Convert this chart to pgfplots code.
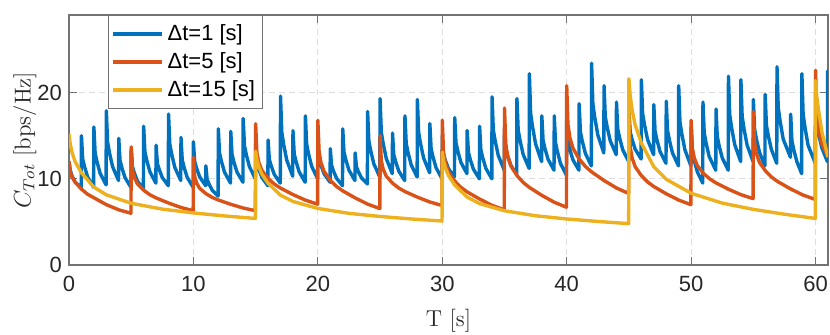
\documentclass[border=0pt]{standalone}
\usepackage{fontspec}
\usepackage{pgfplots}
\pgfplotsset{compat=1.18}
\newfontfamily\hv{Liberation Sans}
\definecolor{mBlue}{RGB}{0,114,189}
\definecolor{mOrange}{RGB}{217,83,25}
\definecolor{mYellow}{RGB}{237,177,32}
\definecolor{mAxis}{RGB}{38,38,38}
\definecolor{mGrid}{RGB}{222,222,222}

\begin{document}
\begin{tikzpicture}
\begin{axis}[
  name=ax,
  width=379.5pt, height=125pt, scale only axis,
  xmin=0, xmax=61, ymin=0, ymax=29,
  xtick={0,10,...,60}, ytick={0,10,20},
  tick align=inside, major tick length=4pt,
  axis line style={black!55, line width=0.6pt},
  tick style={black!55, line width=0.6pt},
  grid=major,
  grid style={mGrid, dash pattern=on 3pt off 2pt, line width=0.5pt},
  ticklabel style={font=\hv\fontsize{11}{13}\selectfont, text=mAxis},
  /pgf/number format/assume math mode=true,
  xticklabel style={yshift=-2pt},
  xlabel={T [s]},
  ylabel={$C_{Tot}$ [bps/Hz]},
  label style={font=\fontsize{11.5}{13}\selectfont, text=mAxis},
  xlabel style={at={(rel axis cs:0.5,-0.224)}, anchor=center},
  ylabel style={at={(rel axis cs:-0.058,0.5)}, anchor=center},
  legend style={at={(0.051,1)}, anchor=north west,
    font=\hv\fontsize{11}{13}\selectfont, text=black,
    draw=black!55, fill=white, line width=0.6pt,
    inner xsep=1.5pt, inner ysep=2.5pt, row sep=0.5pt},
  legend cell align=left,
  legend image code/.code={\draw[#1] (0cm,0cm) -- (0.86cm,0cm);},
  every axis plot/.append style={line width=1.7pt, line join=round},
]
% dt = 1 s
\addplot[mBlue] coordinates {
(0,12.0)(0.1,11.0)(0.25,10.3)(0.5,9.6)(0.98,9.0)
(1,15.0)(1.1,12.3)(1.25,11.4)(1.5,10.2)(1.98,9.0)
(2,16.0)(2.1,12.99)(2.25,11.98)(2.5,10.64)(2.98,9.3)
(3,17.9)(3.1,14.26)(3.25,13.04)(3.5,11.42)(3.98,9.8)
(4,14.7)(4.1,12.14)(4.25,11.28)(4.5,10.14)(4.98,9.0)
(5,13.5)(5.1,11.39)(5.25,10.68)(5.5,9.74)(5.98,8.8)
(6,16.1)(6.1,13.13)(6.25,12.14)(6.5,10.82)(6.98,9.5)
(7,13.9)(7.1,11.79)(7.25,11.08)(7.5,10.14)(7.98,9.2)
(8,17.5)(8.1,14.04)(8.25,12.88)(8.5,11.34)(8.98,9.8)
(9,14.8)(9.1,12.19)(9.25,11.32)(9.5,10.16)(9.98,9.0)
(10,14.3)(10.1,12.01)(10.25,11.24)(10.5,10.22)(10.98,9.2)
(11,11.5)(11.1,9.93)(11.25,9.4)(11.5,8.7)(11.98,8.0)
(12,15.8)(12.1,12.97)(12.25,12.02)(12.5,10.76)(12.98,9.5)
(13,15.5)(13.1,12.85)(13.25,11.96)(13.5,10.78)(13.98,9.6)
(14,17.0)(14.1,13.85)(14.25,12.8)(14.5,11.4)(14.98,10.0)
(15,14.0)(15.1,11.84)(15.25,11.12)(15.5,10.16)(15.98,9.2)
(16,14.5)(16.1,12.25)(16.25,11.5)(16.5,10.5)(16.98,9.5)
(17,19.6)(17.1,15.42)(17.25,14.02)(17.5,12.16)(17.98,10.3)
(18,15.6)(18.1,12.9)(18.25,12.0)(18.5,10.8)(18.98,9.6)
(19,17.3)(19.1,14.02)(19.25,12.92)(19.5,11.46)(19.98,10.0)
(20,14.5)(20.1,12.3)(20.25,11.56)(20.5,10.58)(20.98,9.6)
(21,13.5)(21.1,11.57)(21.25,10.92)(21.5,10.06)(21.98,9.2)
(22,15.8)(22.1,13.1)(22.25,12.2)(22.5,11.0)(22.98,9.8)
(23,13.0)(23.1,11.38)(23.25,10.84)(23.5,10.12)(23.98,9.4)
(24,17.8)(24.1,14.38)(24.25,13.24)(24.5,11.72)(24.98,10.2)
(25,19.3)(25.1,15.39)(25.25,14.08)(25.5,12.34)(25.98,10.6)
(26,15.3)(26.1,12.83)(26.25,12.0)(26.5,10.9)(26.98,9.8)
(27,17.3)(27.1,14.11)(27.25,13.04)(27.5,11.62)(27.98,10.2)
(28,19.2)(28.1,15.38)(28.25,14.1)(28.5,12.4)(28.98,10.7)
(29,16.4)(29.1,13.52)(29.25,12.56)(29.5,11.28)(29.98,10.0)
(30,15.0)(30.1,12.84)(30.25,12.12)(30.5,11.16)(30.98,10.2)
(31,17.1)(31.1,14.18)(31.25,13.2)(31.5,11.9)(31.98,10.6)
(32,15.6)(32.1,13.08)(32.25,12.24)(32.5,11.12)(32.98,10.0)
(33,16.1)(33.1,13.36)(33.25,12.44)(33.5,11.22)(33.98,10.0)
(34,19.5)(34.1,15.68)(34.25,14.4)(34.5,12.7)(34.98,11.0)
(35,16.0)(35.1,13.53)(35.25,12.7)(35.5,11.6)(35.98,10.5)
(36,19.3)(36.1,15.66)(36.25,14.44)(36.5,12.82)(36.98,11.2)
(37,22.2)(37.1,17.61)(37.25,16.08)(37.5,14.04)(37.98,12.0)
(38,17.3)(38.1,14.47)(38.25,13.52)(38.5,12.26)(38.98,11.0)
(39,17.3)(39.1,14.2)(39.25,13.16)(39.5,11.78)(39.98,10.4)
(40,17.0)(40.1,14.3)(40.25,13.4)(40.5,12.2)(40.98,11.0)
(41,18.7)(41.1,15.46)(41.25,14.38)(41.5,12.94)(41.98,11.5)
(42,23.4)(42.1,18.72)(42.25,17.16)(42.5,15.08)(42.98,13.0)
(43,20.8)(43.1,17.2)(43.25,16.0)(43.5,14.4)(43.98,12.8)
(44,18.9)(44.1,15.8)(44.25,14.76)(44.5,13.38)(44.98,12.0)
(45,18.0)(45.1,15.44)(45.25,14.58)(45.5,13.44)(45.98,12.3)
(46,21.5)(46.1,17.59)(46.25,16.28)(46.5,14.54)(46.98,12.8)
(47,18.6)(47.1,15.54)(47.25,14.52)(47.5,13.16)(47.98,11.8)
(48,19.0)(48.1,15.63)(48.25,14.5)(48.5,13.0)(48.98,11.5)
(49,20.8)(49.1,16.62)(49.25,15.22)(49.5,13.36)(49.98,11.5)
(50,16.0)(50.1,13.08)(50.25,12.1)(50.5,10.8)(50.93,9.5)
(50.95,18.9)(51.05,15.35)(51.2,14.16)(51.45,12.58)(51.98,11.0)
(52,18.1)(52.1,14.91)(52.25,13.84)(52.5,12.42)(52.98,11.0)
(53,21.9)(53.1,17.45)(53.25,15.96)(53.5,13.98)(53.98,12.0)
(54,21.5)(54.1,17.23)(54.25,15.8)(54.5,13.9)(54.98,12.0)
(55,19.2)(55.1,15.74)(55.25,14.58)(55.5,13.04)(55.93,11.5)
(55.95,19.8)(56.05,16.2)(56.2,15.0)(56.45,13.4)(56.88,11.8)
(56.9,23.0)(57.0,18.28)(57.15,16.7)(57.4,14.6)(57.98,12.5)
(58,17.5)(58.1,14.4)(58.25,13.36)(58.5,11.98)(58.88,10.6)
(58.9,22.2)(59.0,17.52)(59.15,15.96)(59.4,13.88)(59.98,11.8)
(60,20.0)(60.1,16.4)(60.25,15.2)(60.5,13.6)(60.95,12.0)
(60.97,22.5)(61.1,18.0)
};
\addlegendentry{Δt=1 [s]}
% dt = 5 s
\addplot[mOrange] coordinates {
(0,12.0)(0.1,10.8)(0.25,10.2)(0.5,9.6)(1,8.8)(1.5,8.2)(2,7.8)(3,7.0)(4,6.4)(4.98,6.0)
(5,13.7)(5.1,11.04)(5.25,10.15)(5.5,9.41)(6,8.67)(6.5,8.15)(7,7.78)(8,7.19)(9,6.67)(9.98,6.3)
(10,12.5)(10.1,10.27)(10.25,9.52)(10.5,8.9)(11,8.28)(11.5,7.85)(12,7.54)(13,7.04)(14,6.61)(14.98,6.3)
(15,16.4)(15.1,13.03)(15.25,11.91)(15.5,10.98)(16,10.04)(16.5,9.39)(17,8.92)(18,8.17)(19,7.52)(19.98,7.05)
(20,16.8)(20.1,13.11)(20.25,11.88)(20.5,10.86)(21,9.83)(21.5,9.11)(22,8.6)(23,7.78)(24,7.06)(24.98,6.55)
(25,15.0)(25.1,12.08)(25.25,11.11)(25.5,10.3)(26,9.49)(26.5,8.93)(27,8.52)(28,7.87)(29,7.31)(29.98,6.9)
(30,16.8)(30.1,13.06)(30.25,11.81)(30.5,10.77)(31,9.73)(31.5,9.0)(32,8.48)(33,7.65)(34,6.92)(34.98,6.4)
(35,18.2)(35.1,14.06)(35.25,12.68)(35.5,11.53)(36,10.38)(36.5,9.58)(37,9.0)(38,8.08)(39,7.28)(39.98,6.7)
(40,20.8)(40.1,16.3)(40.25,14.8)(40.5,13.55)(41,12.3)(41.5,11.43)(42,10.8)(43,9.8)(44,8.93)(44.98,8.3)
(45,17.5)(45.1,13.72)(45.25,12.46)(45.5,11.41)(46,10.36)(46.5,9.63)(47,9.1)(48,8.26)(49,7.53)(49.98,7.0)
(50,16.8)(50.1,13.52)(50.25,12.43)(50.5,11.52)(51,10.61)(51.5,9.98)(52,9.52)(53,8.79)(54,8.16)(54.98,7.7)
(55,17.8)(55.1,14.13)(55.25,12.9)(55.5,11.88)(56,10.86)(56.5,10.15)(57,9.64)(58,8.82)(59,8.11)(59.98,7.6)
(60,22.6)(60.1,17.31)(60.25,15.54)(60.5,14.07)(61,12.6)
};
\addlegendentry{Δt=5 [s]}
% dt = 15 s
\addplot[mYellow] coordinates {
(0,15.2)(0.1,14.02)(0.25,13.04)(0.5,11.97)(1,10.69)(2,9.03)(3,8.14)(5,7.16)(7.5,6.48)(10,6.04)(12.5,5.69)(14.98,5.4)
(15,13.2)(15.1,12.23)(15.25,11.42)(15.5,10.53)(16,9.47)(17,8.1)(18,7.37)(20,6.56)(22.5,5.99)(25,5.63)(27.5,5.34)(29.98,5.1)
(30,13.1)(30.1,12.1)(30.25,11.27)(30.5,10.36)(31,9.28)(32,7.87)(33,7.12)(35,6.29)(37.5,5.71)(40,5.34)(42.5,5.05)(44.98,4.8)
(45,21.6)(45.1,19.66)(45.25,18.04)(45.5,16.25)(46,14.15)(47,11.39)(48,9.94)(50,8.32)(52.5,7.18)(55,6.45)(57.5,5.89)(59.98,5.4)
(60,21.4)(60.1,19.48)(60.25,17.88)(60.5,15.5)(61,12.5)
};
\addlegendentry{Δt=15 [s]}
\end{axis}
\pgfresetboundingbox
\path[use as bounding box] ([xshift=-34.5pt,yshift=-35pt]ax.south west) rectangle ([xshift=1pt,yshift=7.5pt]ax.north east);
\end{tikzpicture}
\end{document}
